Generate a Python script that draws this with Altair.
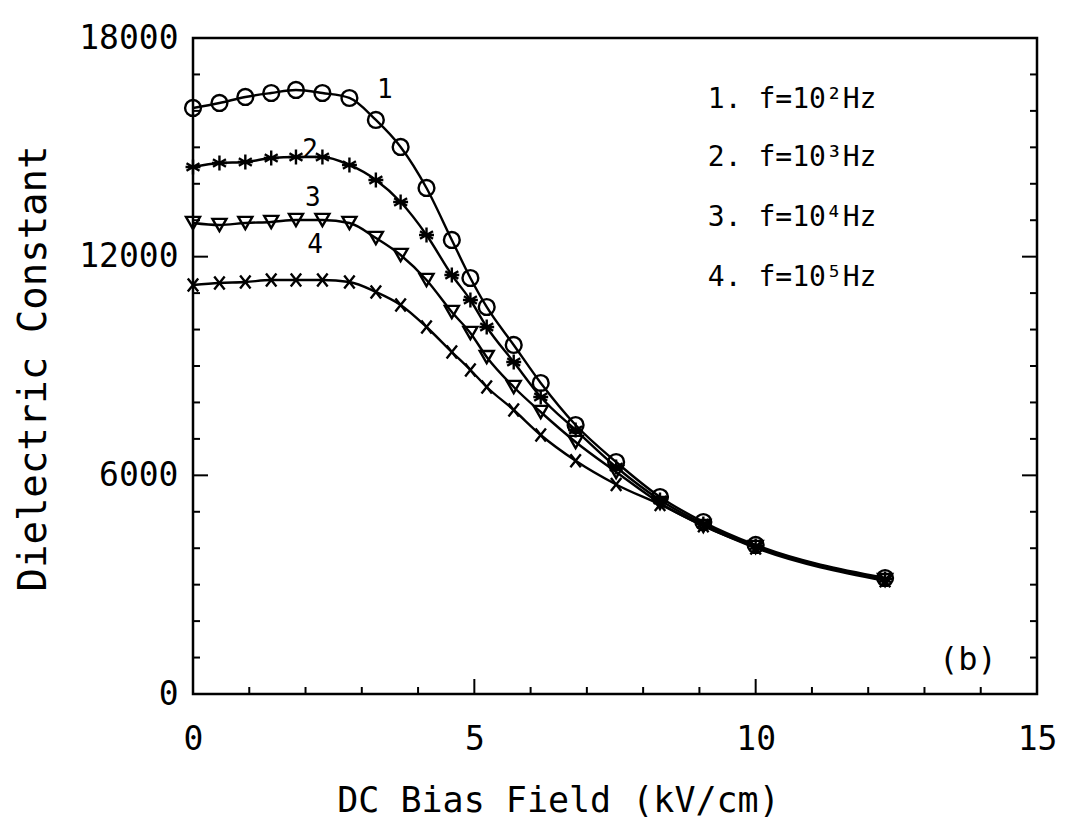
import altair as alt
import pandas as pd

# ---- data ----
field = [0.0, 0.47, 0.93, 1.39, 1.83, 2.30, 2.78, 3.25, 3.69, 4.15, 4.60,
         4.93, 5.22, 5.70, 6.18, 6.80, 7.52, 8.30, 9.07, 10.0, 12.3]
eps_1 = [16080, 16217, 16382, 16491, 16574, 16491, 16354, 15751, 15010, 13885, 12458,
         11415, 10619, 9577, 8534, 7381, 6366, 5406, 4720, 4089, 3183]
eps_2 = [14461, 14571, 14598, 14708, 14735, 14735, 14516, 14104, 13500, 12595, 11497,
         10811, 10070, 9110, 8150, 7244, 6229, 5323, 4665, 4061, 3156]
eps_3 = [12924, 12869, 12924, 12952, 13007, 13007, 12924, 12513, 12046, 11360, 10482,
         9906, 9247, 8424, 7738, 6915, 6092, 5241, 4610, 4034, 3128]
eps_4 = [11223, 11278, 11305, 11360, 11360, 11360, 11305, 11031, 10674, 10070, 9384,
         8891, 8424, 7793, 7107, 6400, 5750, 5200, 4620, 4010, 3110]
series_names = ["1", "2", "3", "4"]

curve_label_x = [3.41, 2.08, 2.13, 2.17]
curve_label_y = [16574, 14927, 13610, 12320]

legend_lines = ["1.  f=10²Hz", "2.  f=10³Hz", "3.  f=10⁴Hz", "4.  f=10⁵Hz"]
legend_x = [9.15, 9.15, 9.15, 9.15]
legend_y = [16300, 14708, 13062, 11415]

panel_tag = ["(b)"]
panel_x = [13.77]
panel_y = [933]

x_major = [0, 5, 10, 15]
x_minor = [1, 2, 3, 4, 6, 7, 8, 9, 11, 12, 13, 14]
y_major = [0, 6000, 12000, 18000]
y_minor = [v for v in range(1000, 18000, 1000) if v % 6000 != 0]

FONT = "DejaVu Sans Mono"
W, H = 844, 656

rows = []
for name, ys in zip(series_names, [eps_1, eps_2, eps_3, eps_4]):
    for xv, yv in zip(field, ys):
        rows.append({"E": xv, "eps": yv, "series": name})
df = pd.DataFrame(rows)

xs = alt.Scale(domain=[0, 15], nice=False)
ys_ = alt.Scale(domain=[0, 18000], nice=False)

asterisk = "M0,-1L0,1M-0.87,-0.5L0.87,0.5M-0.87,0.5L0.87,-0.5M-1,0L1,0"
xmark = "M-0.8,-1L0.8,1M-0.8,1L0.8,-1"

base = alt.Chart(df)

lines = base.mark_line(color="black", strokeWidth=2.4, interpolate="monotone").encode(
    x=alt.X("E:Q", scale=xs,
            axis=alt.Axis(title="DC Bias Field (kV/cm)", values=x_major, format="d",
                          labelFlush=False,
                          titleX=365, titleY=106, titleBaseline="middle", titleAlign="center")),
    y=alt.Y("eps:Q", scale=ys_,
            axis=alt.Axis(title="Dielectric Constant", values=y_major, format="d",
                          labelFlush=False,
                          titleX=-160, titleY=330, titleAngle=270,
                          titleBaseline="middle", titleAlign="center")),
    detail="series:N",
)

points = base.mark_point(filled=False, color="black", strokeWidth=2.4, opacity=1).encode(
    x=alt.X("E:Q", scale=xs),
    y=alt.Y("eps:Q", scale=ys_),
    shape=alt.Shape("series:N", scale=alt.Scale(domain=series_names,
                    range=["circle", asterisk, "triangle-down", xmark]), legend=None),
    size=alt.Size("series:N", scale=alt.Scale(domain=series_names,
                  range=[250, 170, 110, 170]), legend=None),
)

lab_df = pd.DataFrame({"x": curve_label_x, "y": curve_label_y, "t": series_names})
curve_labels = alt.Chart(lab_df).mark_text(font=FONT, fontSize=26, color="black").encode(
    x=alt.X("x:Q", scale=xs), y=alt.Y("y:Q", scale=ys_), text="t:N")

leg_df = pd.DataFrame({"x": legend_x, "y": legend_y, "t": legend_lines})
legend_text = alt.Chart(leg_df).mark_text(font=FONT, fontSize=28, color="black",
                                          align="left", baseline="middle").encode(
    x=alt.X("x:Q", scale=xs), y=alt.Y("y:Q", scale=ys_), text="t:N")

tag_df = pd.DataFrame({"x": panel_x, "y": panel_y, "t": panel_tag})
tag_text = alt.Chart(tag_df).mark_text(font=FONT, fontSize=32, color="black",
                                       baseline="middle").encode(
    x=alt.X("x:Q", scale=xs), y=alt.Y("y:Q", scale=ys_), text="t:N")

def yticks(vals, length):
    d = pd.DataFrame({"v": vals})
    left = alt.Chart(d).mark_rule(color="black", strokeWidth=2).encode(
        y=alt.Y("v:Q", scale=ys_), x=alt.value(0), x2=alt.value(length))
    right = alt.Chart(d).mark_rule(color="black", strokeWidth=2).encode(
        y=alt.Y("v:Q", scale=ys_), x=alt.value(W), x2=alt.value(W - length))
    return left + right

def xticks(vals, length):
    d = pd.DataFrame({"v": vals})
    return alt.Chart(d).mark_rule(color="black", strokeWidth=2).encode(
        x=alt.X("v:Q", scale=xs), y=alt.value(H), y2=alt.value(H - length))

chart = alt.layer(
    lines, points, curve_labels, legend_text, tag_text,
    yticks(y_major, 15), yticks(y_minor, 7),
    xticks(x_major, 15), xticks(x_minor, 7),
).properties(
    width=W, height=H,
    padding={"left": 185, "top": 30, "right": 22, "bottom": 126},
    autosize=alt.AutoSizeParams(type="none"),
).configure_view(
    stroke="black", strokeWidth=2.5
).configure_axis(
    grid=False, ticks=False, domain=False,
    labelFont=FONT, labelFontSize=33, labelColor="black",
    titleFont=FONT, titleColor="black", titleFontWeight="normal",
).configure_axisY(
    labelPadding=15, titleFontSize=39
).configure_axisX(
    labelPadding=29, titleFontSize=35
)

chart.save("out.html", embed_options={"renderer": "svg", "actions": False})
